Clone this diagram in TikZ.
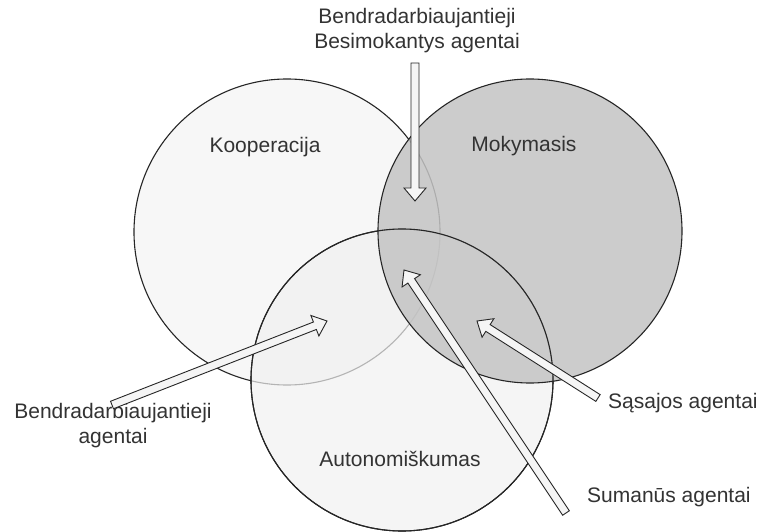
\documentclass[tikz,border=0pt]{standalone}
\usepackage{fontspec}
\setmainfont{Liberation Sans}
\usetikzlibrary{calc}

\definecolor{koopfill}{HTML}{F7F7F7}
\definecolor{autofill}{HTML}{F1F1F1}
\definecolor{mokfill}{HTML}{C4C4C4}

% Hollow block arrow from a tail coordinate (#1) to a tip coordinate (#2)
\newcommand{\hollowarrow}[2]{%
  \coordinate (#2-base) at ($(#2)!13pt!(#1)$);
  \draw[blockarr]
    ($(#1)!4pt!90:(#2)$) -- ($(#2-base)!4pt!-90:(#1)$) --
    ($(#2-base)!11pt!-90:(#1)$) -- (#2) --
    ($(#2-base)!11pt!90:(#1)$) -- ($(#2-base)!4pt!90:(#1)$) --
    ($(#1)!4pt!-90:(#2)$) -- cycle;
}

\begin{document}
\begin{tikzpicture}[x=1pt,y=-1pt,
  setcircle/.style={draw=black!85, line width=1.1pt},
  lbl/.style={font=\fontsize{21}{25}\selectfont, text=black!80, inner sep=0pt, align=center},
  blockarr/.style={draw=black!85, line width=0.9pt, fill=black!4, line join=miter}]
\useasboundingbox (0,0) rectangle (761,532);
\fill[white] (0,0) rectangle (761,532);

% the three overlapping sets
\coordinate (cKoop) at (287,232);
\coordinate (cMok)  at (530,231);
\coordinate (cAuto) at (402,380);
\draw[setcircle, fill=koopfill] (cKoop) circle[radius=153];
\draw[setcircle, fill=autofill, fill opacity=0.7] (cAuto) circle[radius=151];
\draw[setcircle, fill=mokfill, fill opacity=0.85] (cMok) circle[radius=152];
\draw[setcircle] (cAuto) circle[radius=151];

% set names
\node[lbl] (koop) at (265,147) {Kooperacija};
\node[lbl] (mok)  at (524,146) {Mokymasis};
\node[lbl] (auto) at (400,459) {Autonomiškumas};

% agent types
\node[lbl] (bba) at (417,31) {Bendradarbiaujantieji\\Besimokantys agentai};
\node[lbl] (ba)  at (113,426) {Bendradarbiaujantieji\\agentai};
\node[lbl, anchor=west] (sa) at (608,403) {Sąsajos agentai};
\node[lbl, anchor=west] (su) at (587,497) {Sumanūs agentai};

% arrow ends
\coordinate (bbaTail) at (415,63);
\coordinate (bbaTip)  at (415,201);
\coordinate (baTail)  at (112,405);
\coordinate (baTip)   at (327,321);
\coordinate (saTail)  at (598,398);
\coordinate (saTip)   at (477,321);
\coordinate (suTail)  at (566,513);
\coordinate (suTip)   at (404,270);

\hollowarrow{bbaTail}{bbaTip}
\hollowarrow{baTail}{baTip}
\hollowarrow{saTail}{saTip}
\hollowarrow{suTail}{suTip}
\end{tikzpicture}
\end{document}
